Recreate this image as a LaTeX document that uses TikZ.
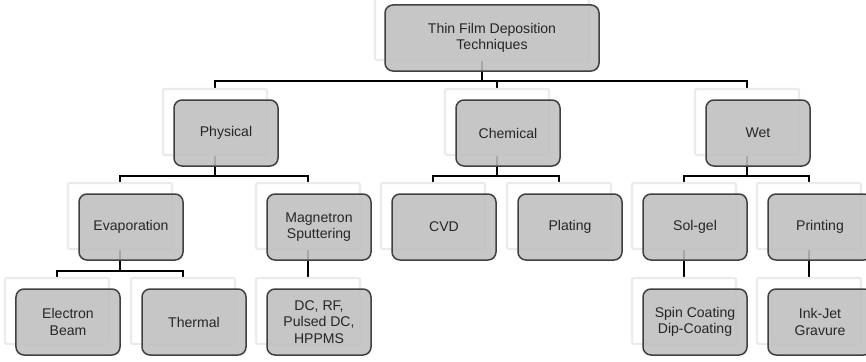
\documentclass[tikz,border=0pt]{standalone}
\usepackage{fontspec}
\setmainfont{Liberation Sans}
\usetikzlibrary{positioning,backgrounds}
\tikzset{
  ghost/.style={draw=black!8, line width=0.7mm, fill=white, rounded corners=0.6mm, minimum width=31.2mm, minimum height=19.8mm},
  ghostwide/.style={ghost, minimum width=64.2mm},
  techbox/.style={draw=black!75, line width=0.45mm, fill=black!25, fill opacity=0.88, text opacity=1, text=black!85, rounded corners=2.4mm, minimum width=31.2mm, minimum height=19.8mm, align=center, shift={(11,11)}},
  techwide/.style={techbox, minimum width=64.2mm, shift={(-1,0)}},
  link/.style={draw=black, line width=0.5mm}
}

\begin{document}
\begin{tikzpicture}[x=0.3mm, y=-0.3mm, every node/.style={font=\fontsize{12}{14}\selectfont}]
  \useasboundingbox (0,0) rectangle (866,362);
  \clip (0,0) rectangle (866,362);
  % top
  \node[ghostwide] (top-g) at (482,27) {};
  \node[techwide] (top) at (top-g) {Thin Film Deposition\\Techniques};
  % families
  \node[ghost] (phys-g) at (215,122) {};
  \node[techbox] (phys) at (phys-g) {Physical};
  \node[ghost] (chem-g) at (497,122) {};
  \node[techbox] (chem) at (chem-g) {Chemical};
  \node[ghost] (wet-g) at (747,122) {};
  \node[techbox] (wet) at (wet-g) {Wet};
  % methods
  \node[ghost] (evap-g) at (120,216) {};
  \node[techbox] (evap) at (evap-g) {Evaporation};
  \node[ghost] (magn-g) at (308,216) {};
  \node[techbox] (magn) at (magn-g) {Magnetron\\Sputtering};
  \node[ghost] (cvd-g) at (433,216) {};
  \node[techbox] (cvd) at (cvd-g) {CVD};
  \node[ghost] (plat-g) at (559,216) {};
  \node[techbox] (plat) at (plat-g) {Plating};
  \node[ghost] (sol-g) at (684,216) {};
  \node[techbox] (sol) at (sol-g) {Sol-gel};
  \node[ghost] (print-g) at (809,216) {};
  \node[techbox] (print) at (print-g) {Printing};
  % variants
  \node[ghost] (ebeam-g) at (57,311) {};
  \node[techbox] (ebeam) at (ebeam-g) {Electron\\Beam};
  \node[ghost] (therm-g) at (183,311) {};
  \node[techbox] (therm) at (therm-g) {Thermal};
  \node[ghost] (dc-g) at (308,311) {};
  \node[techbox] (dc) at (dc-g) {DC, RF,\\Pulsed DC,\\HPPMS};
  \node[ghost] (spin-g) at (684,311) {};
  \node[techbox] (spin) at (spin-g) {Spin Coating\\Dip-Coating};
  \node[ghost] (ink-g) at (809,311) {};
  \node[techbox] (ink) at (ink-g) {Ink-Jet\\Gravure};
  \begin{pgfonlayer}{background}
    \draw[link] (top-g.south) -- ++(0,20) -| (phys-g.north);
    \draw[link] (top-g.south) -- ++(0,20) -| (chem-g.north);
    \draw[link] (top-g.south) -- ++(0,20) -| (wet-g.north);
    \draw[link] (phys-g.south) -- ++(0,20) -| (evap-g.north);
    \draw[link] (phys-g.south) -- ++(0,20) -| (magn-g.north);
    \draw[link] (chem-g.south) -- ++(0,20) -| (cvd-g.north);
    \draw[link] (chem-g.south) -- ++(0,20) -| (plat-g.north);
    \draw[link] (wet-g.south) -- ++(0,20) -| (sol-g.north);
    \draw[link] (wet-g.south) -- ++(0,20) -| (print-g.north);
    \draw[link] (evap-g.south) -- ++(0,21) -| (ebeam-g.north);
    \draw[link] (evap-g.south) -- ++(0,21) -| (therm-g.north);
    \draw[link] (magn-g.south) -- (dc-g.north);
    \draw[link] (sol-g.south) -- (spin-g.north);
    \draw[link] (print-g.south) -- (ink-g.north);
  \end{pgfonlayer}
\end{tikzpicture}
\end{document}
